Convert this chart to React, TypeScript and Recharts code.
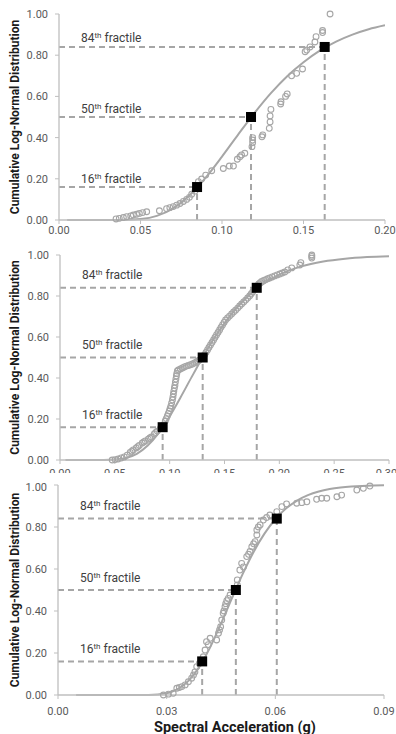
import { ComposedChart, Line, Scatter, XAxis, YAxis, ReferenceLine } from "recharts";

const Y_TICKS = [0, 0.2, 0.4, 0.6, 0.8, 1.0];
const FRACTILE_LEVELS = [0.16, 0.5, 0.84];
const FRACTILE_NAMES = ["16", "50", "84"];

// panel 1
const xTicks1 = [0, 0.05, 0.1, 0.15, 0.2];
const fractileX1 = [0.0847, 0.1178, 0.163];
const curveX1 = [0.005, 0.02, 0.03, 0.04, 0.05, 0.06, 0.07, 0.08, 0.09, 0.1, 0.11, 0.12, 0.13, 0.14, 0.15, 0.16, 0.17, 0.18, 0.19, 0.2];
const curveY1 = [0, 0, 0, 0.0005, 0.0046, 0.0202, 0.0568, 0.1194, 0.2058, 0.308, 0.4158, 0.52, 0.6155, 0.698, 0.766, 0.822, 0.866, 0.9, 0.926, 0.945];
const obsX1 = [0.035, 0.037, 0.0395, 0.0415, 0.044, 0.0456, 0.0476, 0.0493, 0.0513, 0.0538, 0.0616, 0.066, 0.068, 0.0701, 0.0722, 0.0742, 0.0763, 0.0783, 0.08, 0.0814, 0.0834, 0.0855, 0.0875, 0.09, 0.0937, 0.1008, 0.1045, 0.107, 0.1094, 0.111, 0.112, 0.114, 0.1184, 0.1188, 0.1188, 0.1188, 0.1245, 0.125, 0.129, 0.1295, 0.1295, 0.13, 0.136, 0.1362, 0.139, 0.14, 0.1427, 0.1458, 0.1494, 0.151, 0.152, 0.154, 0.157, 0.1577, 0.1617, 0.1617, 0.1663];
const obsY1 = [0.005, 0.008, 0.012, 0.016, 0.02, 0.024, 0.028, 0.032, 0.036, 0.04, 0.045, 0.055, 0.06, 0.065, 0.072, 0.08, 0.09, 0.1, 0.11, 0.125, 0.14, 0.186, 0.199, 0.218, 0.239, 0.25, 0.262, 0.262, 0.295, 0.307, 0.316, 0.324, 0.356, 0.375, 0.388, 0.4, 0.404, 0.413, 0.445, 0.476, 0.505, 0.537, 0.563, 0.574, 0.6, 0.612, 0.7, 0.712, 0.733, 0.817, 0.825, 0.84, 0.864, 0.89, 0.91, 0.92, 1.0];

// panel 2
const xTicks2 = [0, 0.05, 0.1, 0.15, 0.2, 0.25, 0.3];
const fractileX2 = [0.0936, 0.1301, 0.1794];
const curveX2 = [0.005, 0.03, 0.04, 0.05, 0.06, 0.07, 0.08, 0.09, 0.1, 0.11, 0.12, 0.13, 0.14, 0.15, 0.16, 0.17, 0.18, 0.19, 0.2, 0.22, 0.24, 0.26, 0.28, 0.3];
const curveY2 = [0, 0, 0.0002, 0.0019, 0.0096, 0.0303, 0.0706, 0.1326, 0.2133, 0.3063, 0.4042, 0.5, 0.5889, 0.6677, 0.7354, 0.7919, 0.838, 0.875, 0.904, 0.9446, 0.9684, 0.9822, 0.99, 0.994];
const obsX2 = [0.0476, 0.0503, 0.053, 0.0558, 0.0586, 0.0613, 0.064, 0.0655, 0.0668, 0.0695, 0.0709, 0.0723, 0.075, 0.0764, 0.0778, 0.0805, 0.0819, 0.0833, 0.086, 0.0873, 0.0887, 0.0915, 0.0928, 0.0942, 0.096, 0.0969, 0.0979, 0.0988, 0.0997, 0.1004, 0.1011, 0.1018, 0.1025, 0.103, 0.1034, 0.1038, 0.1043, 0.1048, 0.1052, 0.1057, 0.1061, 0.1065, 0.107, 0.108, 0.1098, 0.1116, 0.1134, 0.1152, 0.1171, 0.119, 0.1208, 0.1226, 0.1244, 0.1258, 0.1272, 0.1295, 0.1317, 0.1331, 0.1345, 0.1358, 0.1372, 0.1386, 0.14, 0.1413, 0.1427, 0.1441, 0.1455, 0.1468, 0.1482, 0.1496, 0.151, 0.1528, 0.1546, 0.1565, 0.1583, 0.1601, 0.162, 0.1638, 0.1656, 0.1675, 0.1693, 0.1711, 0.1729, 0.1743, 0.1757, 0.177, 0.1784, 0.1798, 0.1812, 0.1826, 0.1839, 0.1858, 0.1876, 0.1894, 0.1912, 0.1935, 0.1958, 0.1981, 0.2004, 0.2027, 0.205, 0.2077, 0.2113, 0.2187, 0.2196, 0.2296, 0.2296, 0.2296];
const obsY2 = [0, 0.002, 0.005, 0.01, 0.015, 0.024, 0.037, 0.043, 0.049, 0.059, 0.065, 0.071, 0.083, 0.088, 0.093, 0.102, 0.107, 0.112, 0.127, 0.134, 0.141, 0.154, 0.162, 0.171, 0.19, 0.202, 0.215, 0.227, 0.239, 0.251, 0.263, 0.278, 0.293, 0.307, 0.322, 0.336, 0.351, 0.365, 0.38, 0.395, 0.41, 0.422, 0.434, 0.439, 0.444, 0.449, 0.454, 0.458, 0.461, 0.465, 0.468, 0.473, 0.478, 0.483, 0.488, 0.5, 0.512, 0.525, 0.537, 0.549, 0.561, 0.573, 0.585, 0.598, 0.61, 0.622, 0.634, 0.647, 0.659, 0.671, 0.683, 0.693, 0.702, 0.712, 0.722, 0.731, 0.741, 0.751, 0.761, 0.771, 0.78, 0.79, 0.8, 0.81, 0.82, 0.83, 0.839, 0.849, 0.859, 0.865, 0.871, 0.876, 0.88, 0.884, 0.888, 0.893, 0.898, 0.903, 0.907, 0.912, 0.917, 0.927, 0.937, 0.951, 0.963, 0.985, 0.993, 1.0];

// panel 3
const xTicks3 = [0, 0.03, 0.06, 0.09];
const fractileX3 = [0.0398, 0.0491, 0.0604];
const curveX3 = [0.005, 0.02, 0.025, 0.03, 0.033, 0.036, 0.039, 0.042, 0.045, 0.048, 0.051, 0.054, 0.057, 0.06, 0.063, 0.066, 0.069, 0.072, 0.075, 0.078, 0.081, 0.084, 0.087, 0.09];
const curveY3 = [0, 0, 0.0005, 0.0086, 0.0275, 0.0672, 0.134, 0.227, 0.3397, 0.46, 0.577, 0.6814, 0.7686, 0.837, 0.8888, 0.9259, 0.9517, 0.9691, 0.9806, 0.988, 0.9927, 0.9956, 0.9973, 0.9984];
const obsX3 = [0.0291, 0.0305, 0.0318, 0.0328, 0.0335, 0.0342, 0.0351, 0.036, 0.0369, 0.0374, 0.0378, 0.0383, 0.039, 0.0401, 0.0406, 0.041, 0.0415, 0.042, 0.0438, 0.0443, 0.0446, 0.0449, 0.0452, 0.0456, 0.0458, 0.0461, 0.0463, 0.0466, 0.047, 0.0475, 0.0495, 0.0495, 0.0502, 0.0507, 0.0512, 0.0521, 0.0526, 0.053, 0.0535, 0.054, 0.0544, 0.0549, 0.0549, 0.0553, 0.0558, 0.0567, 0.0576, 0.0585, 0.0604, 0.0618, 0.0631, 0.0659, 0.0673, 0.0687, 0.0714, 0.0728, 0.0742, 0.077, 0.0783, 0.0825, 0.0843, 0.0861];
const obsY3 = [0, 0.004, 0.008, 0.032, 0.036, 0.04, 0.048, 0.063, 0.08, 0.095, 0.11, 0.135, 0.15, 0.182, 0.214, 0.254, 0.24, 0.27, 0.262, 0.294, 0.31, 0.325, 0.357, 0.389, 0.4, 0.42, 0.435, 0.449, 0.46, 0.476, 0.524, 0.548, 0.595, 0.627, 0.61, 0.659, 0.67, 0.683, 0.706, 0.72, 0.73, 0.762, 0.786, 0.8, 0.81, 0.833, 0.845, 0.857, 0.873, 0.897, 0.91, 0.913, 0.916, 0.92, 0.932, 0.937, 0.937, 0.944, 0.952, 0.976, 0.984, 0.995];

const toPoints = (xs: number[], ys: number[]) => xs.map((x, i) => ({ x, y: ys[i] }));

const GRAY = "#a6a6a6";
const AXIS = "#bfbfbf";
const FONT = "Roboto, sans-serif";

const circle = (p: any) => (
  <circle cx={p.cx} cy={p.cy} r={2.9} fill="none" stroke={GRAY} strokeWidth={1.1} />
);
const square = (p: any) => <rect x={p.cx - 5} y={p.cy - 5} width={10} height={10} fill="#000" />;

const yTitle = (p: any) => {
  const vb = p.viewBox;
  const cx = vb.x + 15;
  const cy = vb.y + vb.height / 2;
  return (
    <text x={cx} y={cy} transform={`rotate(-90, ${cx}, ${cy})`} textAnchor="middle" dominantBaseline="central"
      fontFamily={FONT} fontWeight="bold" fontSize={12} fill="#1a1a1a">
      Cumulative Log-Normal Distribution
    </text>
  );
};

const xTitle = (p: any) => {
  const vb = p.viewBox;
  return (
    <text x={vb.x + vb.width / 2 + 14} y={vb.y + 32} textAnchor="middle" dominantBaseline="central"
      fontFamily={FONT} fontWeight="bold" fontSize={14.5} fill="#1a1a1a">
      Spectral Acceleration (g)
    </text>
  );
};

const fractileLabel = (name: string, gap: number) => (p: any) => {
  const vb = p.viewBox;
  const x = vb.x ?? vb.x1;
  const y = vb.y ?? vb.y1;
  return (
    <text x={x + 22} y={y - gap} fontFamily={FONT} fontSize={12} fill="#404040">
      <tspan>{name}</tspan>
      <tspan dy={-4} fontSize={8}>th</tspan>
      <tspan dy={4}> fractile</tspan>
    </text>
  );
};

type PanelProps = {
  height: number;
  margin: { top: number; right: number; bottom: number; left: number };
  yWidth: number;
  xHeight: number;
  xTicks: number[];
  tickMargin: number;
  fractileX: number[];
  curve: { x: number; y: number }[];
  obs: { x: number; y: number }[];
  labelGap: number;
  showXTitle?: boolean;
};

function Panel(props: PanelProps) {
  const { height, margin, yWidth, xHeight, xTicks, tickMargin, fractileX, curve, obs, labelGap, showXTitle } = props;
  const markers = toPoints(fractileX, FRACTILE_LEVELS);
  const tick = { fontSize: 11, fill: "#595959", fontFamily: FONT };
  return (
    <ComposedChart width={396} height={height} margin={margin}>
      <XAxis type="number" dataKey="x" domain={[xTicks[0], xTicks[xTicks.length - 1]]} ticks={xTicks}
        tickFormatter={(v: number) => v.toFixed(2)} height={xHeight} tick={tick} tickSize={4} tickMargin={tickMargin}
        axisLine={{ stroke: AXIS, strokeWidth: 1.3 }} tickLine={{ stroke: AXIS }} allowDataOverflow
        label={showXTitle ? xTitle : undefined} />
      <YAxis type="number" dataKey="y" domain={[0, 1]} ticks={Y_TICKS} tickFormatter={(v: number) => v.toFixed(2)}
        width={yWidth} tick={tick} tickSize={4} tickMargin={7} axisLine={{ stroke: AXIS, strokeWidth: 1.3 }}
        tickLine={{ stroke: AXIS }} label={yTitle} />
      {FRACTILE_LEVELS.map((lv, i) => (
        <ReferenceLine key={"h" + i} segment={[{ x: xTicks[0], y: lv }, { x: fractileX[i], y: lv }]}
          stroke={GRAY} strokeWidth={2} strokeDasharray="6 4" label={fractileLabel(FRACTILE_NAMES[i], labelGap)} />
      ))}
      {FRACTILE_LEVELS.map((lv, i) => (
        <ReferenceLine key={"v" + i} segment={[{ x: fractileX[i], y: 0 }, { x: fractileX[i], y: lv }]}
          stroke={GRAY} strokeWidth={2} strokeDasharray="6 4" />
      ))}
      <Line data={curve} dataKey="y" type="monotone" stroke={GRAY} strokeWidth={2} dot={false} isAnimationActive={false} />
      <Scatter data={obs} shape={circle} isAnimationActive={false} />
      <Scatter data={markers} shape={square} isAnimationActive={false} />
    </ComposedChart>
  );
}

export default function App() {
  return (
    <div style={{ position: "absolute", left: 0, top: 0, width: 396, height: 734, background: "#fff" }}>
      <div style={{ position: "absolute", left: 0, top: 0, width: 396, height: 242, overflow: "hidden" }}>
        <Panel height={242} margin={{ top: 14, right: 11, bottom: 0, left: 0 }} yWidth={59} xHeight={22}
          xTicks={xTicks1} tickMargin={2} fractileX={fractileX1} curve={toPoints(curveX1, curveY1)}
          obs={toPoints(obsX1, obsY1)} labelGap={4.5} />
      </div>
      <div style={{ position: "absolute", left: 0, top: 244, width: 396, height: 229, overflow: "hidden" }}>
        <Panel height={240} margin={{ top: 11, right: 7, bottom: 0, left: 0 }} yWidth={60} xHeight={24}
          xTicks={xTicks2} tickMargin={5} fractileX={fractileX2} curve={toPoints(curveX2, curveY2)}
          obs={toPoints(obsX2, obsY2)} labelGap={8.5} />
      </div>
      <div style={{ position: "absolute", left: 0, top: 481, width: 396, height: 253, overflow: "hidden" }}>
        <Panel height={253} margin={{ top: 4, right: 12, bottom: 0, left: 0 }} yWidth={58} xHeight={39}
          xTicks={xTicks3} tickMargin={8} fractileX={fractileX3} curve={toPoints(curveX3, curveY3)}
          obs={toPoints(obsX3, obsY3)} labelGap={8.5} showXTitle />
      </div>
    </div>
  );
}
